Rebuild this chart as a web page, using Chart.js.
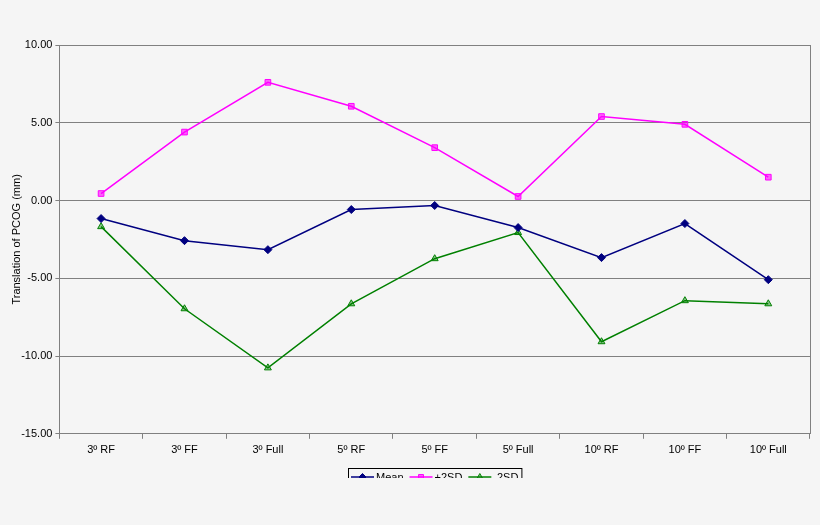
<!DOCTYPE html>
<html>
<head>
<meta charset="utf-8">
<script src="https://cdn.jsdelivr.net/npm/chart.js@4/dist/chart.umd.min.js"></script>
<style>
  html, body { margin: 0; padding: 0; background: #f5f5f5; }
  #wrap { width: 820px; height: 478px; overflow: hidden; }
</style>
</head>
<body>
<div id="wrap"><canvas id="chart" width="820" height="525"></canvas></div>
<script>
const categories = ["3º RF", "3º FF", "3º Full", "5º RF", "5º FF", "5º Full", "10º RF", "10º FF", "10º Full"];
const meanVals = [-1.16, -2.58, -3.16, -0.58, -0.32, -1.74, -3.67, -1.48, -5.09];
const plus2SD = [0.45, 4.4, 7.6, 6.06, 3.4, 0.26, 5.4, 4.9, 1.5];
const minus2SD = [-1.68, -6.96, -10.76, -6.64, -3.74, -2.06, -9.08, -6.44, -6.64];
const yTicks = [10, 5, 0, -5, -10, -15];

const series = [
  { label: "Mean", data: meanVals, color: "#000080", fill: "#000080", style: "rectRot" },
  { label: "+2SD", data: plus2SD, color: "#ff00ff", fill: "rgba(255,0,255,0.6)", style: "rect" },
  { label: "-2SD", data: minus2SD, color: "#008000", fill: "rgba(0,128,0,0.45)", style: "triangle" },
];

// legend box under the plot (line + marker + text), the picture cuts it off at the bottom
const boxLegend = {
  id: "boxLegend",
  afterDraw(chart) {
    const { ctx, chartArea: a } = chart;
    ctx.save();
    ctx.font = "11px 'Liberation Sans', Arial, sans-serif";
    const sw = 23, gap = 2, sep = 6, pad = 3;
    const items = chart.data.datasets.map(ds => ({ ds, w: sw + gap + ctx.measureText(ds.label).width }));
    const total = items.reduce((t, it) => t + it.w, 0) + sep * (items.length - 1) + pad * 2;
    let x = Math.round((a.left + a.right) / 2 - total / 2);
    const top = Math.round(a.bottom) + 34;
    const h = 20;
    ctx.strokeStyle = "#000";
    ctx.lineWidth = 1;
    ctx.strokeRect(x + 0.5, top + 0.5, total, h);
    const cy = top + 9;
    x += pad;
    items.forEach(it => {
      const ds = it.ds;
      ctx.strokeStyle = ds.borderColor;
      ctx.lineWidth = 1.5;
      ctx.beginPath(); ctx.moveTo(x, cy); ctx.lineTo(x + sw, cy); ctx.stroke();
      ctx.fillStyle = ds.pointBackgroundColor;
      ctx.lineWidth = 1;
      Chart.helpers.drawPoint(ctx, {
        pointStyle: ds.pointStyle, radius: 3.5, borderWidth: 1, rotation: 0
      }, x + sw / 2, cy);
      ctx.fillStyle = "#000";
      ctx.textBaseline = "middle";
      ctx.fillText(ds.label, x + sw + gap, cy + 1);
      x += it.w + sep;
    });
    ctx.restore();
  }
};

const frame = {
  id: "frame",
  afterDraw(chart) {
    const { ctx, chartArea: a } = chart;
    ctx.save();
    ctx.strokeStyle = "#808080";
    ctx.lineWidth = 1;
    ctx.beginPath();
    ctx.moveTo(Math.round(a.right) + 0.5, a.top);
    ctx.lineTo(Math.round(a.right) + 0.5, a.bottom);
    ctx.stroke();
    ctx.restore();
  }
};

Chart.defaults.font.family = "'Liberation Sans', Arial, sans-serif";
Chart.defaults.font.size = 11;
Chart.defaults.color = "#000";

new Chart(document.getElementById("chart"), {
  type: "line",
  data: {
    labels: categories,
    datasets: series.map(s => ({
      label: s.label,
      data: s.data,
      borderColor: s.color,
      backgroundColor: s.fill,
      pointBackgroundColor: s.fill,
      pointBorderColor: s.color,
      borderWidth: 1.5,
      pointStyle: s.style,
      pointRadius: 4,
      pointBorderWidth: 1,
      tension: 0,
    })),
  },
  options: {
    animation: false,
    responsive: false,
    layout: { padding: { top: 45, right: 10, bottom: 63, left: 3 } },
    plugins: {
      tooltip: { enabled: false },
      legend: { display: false },
    },
    scales: {
      x: {
        offset: true,
        grid: { drawOnChartArea: false, offset: true, tickLength: 5, color: "#808080" },
        border: { color: "#808080" },
        ticks: { padding: 5, maxRotation: 0 },
      },
      y: {
        min: -15, max: 10,
        afterBuildTicks: axis => { axis.ticks = yTicks.map(v => ({ value: v })); },
        grid: { color: "#808080", tickLength: 4 },
        border: { color: "#808080" },
        ticks: { callback: v => v.toFixed(2), padding: 3 },
        title: { display: true, text: "Translation of PCOG (mm)", font: { size: 11 }, padding: { top: 7, bottom: -5 } },
      },
    },
  },
  plugins: [frame, boxLegend],
});
</script>
</body>
</html>
